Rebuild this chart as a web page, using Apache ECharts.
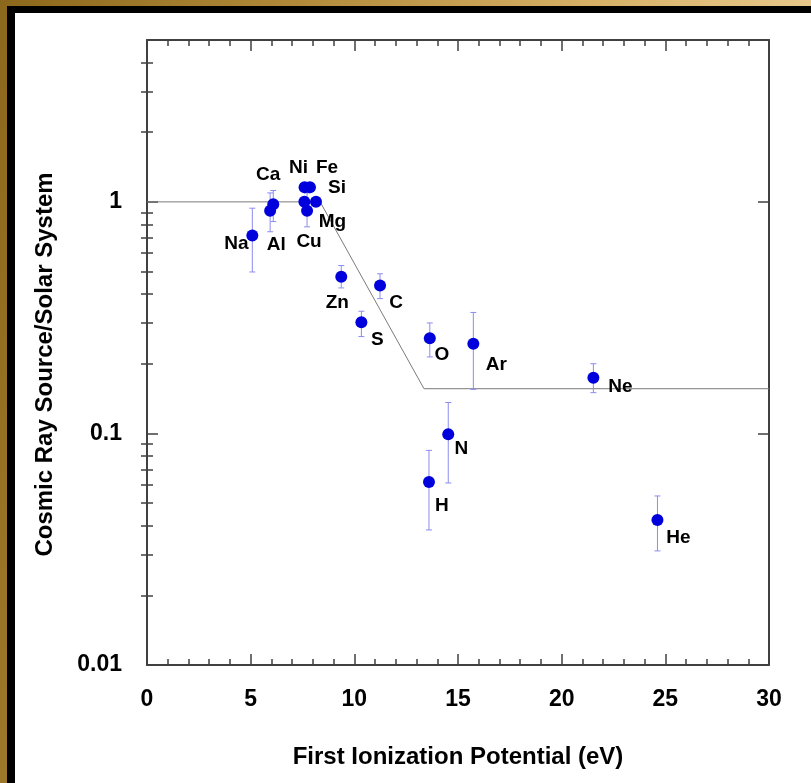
<!DOCTYPE html>
<html><head><meta charset="utf-8">
<script src="https://cdn.jsdelivr.net/npm/echarts@6/dist/echarts.min.js"></script>
<style>
html,body{margin:0;padding:0;width:811px;height:783px;overflow:hidden;}
body{position:relative;background:linear-gradient(100deg,#8c681c 0%,#b08838 30%,#d6b066 62%,#f2d8a2 100%);}
#black{position:absolute;left:7px;top:6px;right:0;bottom:0;background:#000;}
#white{position:absolute;left:15px;top:13px;right:0;bottom:0;background:#fff;}
#chart{position:absolute;left:0;top:0;width:811px;height:783px;}
</style></head>
<body><div id="black"></div><div id="white"></div><div id="chart"></div>
<script>
// ---- data ----
const elements = ['Na','Al','Ca','Ni','Fe','Mg','Si','Cu','Zn','C','S','O','Ar','Ne','N','H','He'];
const fip      = [5.08, 5.94, 6.09, 7.60, 7.86, 7.59, 8.15, 7.72, 9.37, 11.24, 10.34, 13.64, 15.74, 21.53, 14.53, 13.60, 24.62];
const ratio    = [0.716, 0.915, 0.977, 1.157, 1.157, 1.0, 1.0, 0.915, 0.475, 0.435, 0.302, 0.2575, 0.244, 0.174, 0.0993, 0.0617, 0.0423];
const errLow   = [0.498, 0.743, 0.822, null, null, null, null, 0.780, 0.425, 0.382, 0.262, 0.214, 0.155, 0.150, 0.0611, 0.0383, 0.0311];
const errHigh  = [0.939, 1.093, 1.119, null, null, null, null, 1.093, 0.531, 0.489, 0.337, 0.300, 0.333, 0.200, 0.136, 0.0845, 0.0537];
const modelX   = [0, 8.35, 13.36, 30];
const modelY   = [1, 1, 0.156, 0.156];
const yMajorTicks = [0.01, 0.1, 1];
const yMinorTicks = [0.02,0.03,0.04,0.05,0.06,0.07,0.08,0.09,0.2,0.3,0.4,0.5,0.6,0.7,0.8,0.9,2,3,4];
const xTitle = 'First Ionization Potential (eV)';
const yTitle = 'Cosmic Ray Source/Solar System';

// ---- layout (label offsets, px relative to point) ----
const labelOffset = {
  Na:[-16,8], Al:[6,34], Ca:[-5,-29], Ni:[-6,-19], Fe:[17,-19], Mg:[28,20], Si:[21,-14],
  Cu:[2,31], Zn:[-4,26], C:[16,17], S:[16,17], O:[12,16], Ar:[23,21], Ne:[27,9],
  N:[13,15], H:[13,24], He:[21,18]
};

const FONT = 'Liberation Sans, Arial, Helvetica, sans-serif';
const AX = '#404040';
const chart = echarts.init(document.getElementById('chart'), null, {renderer:'canvas'});

function fmt(v){ return String(+(+v).toPrecision(6)); }

const baseX = {
  type:'value', min:0, max:30, interval:5,
  axisLine:{show:true, onZero:false, lineStyle:{color:AX, width:2}},
  axisTick:{show:true, inside:true, length:11, lineStyle:{color:AX, width:1.5}},
  minorTick:{show:true, splitNumber:5, length:6, lineStyle:{color:AX, width:1.5}},
  splitLine:{show:false}, minorSplitLine:{show:false}
};
const baseY = {
  type:'log', logBase:10, min:0.01, max:5,
  splitLine:{show:false}, minorSplitLine:{show:false}, minorTick:{show:false}
};

const option = {
  animation:false,
  backgroundColor:'transparent',
  grid:{left:147, right:42, top:40, bottom:118, containLabel:false},
  xAxis:[
    Object.assign({}, baseX, {
      position:'bottom',
      axisLabel:{show:true, margin:23, color:'#000', fontSize:23, fontWeight:'bold', fontFamily:FONT},
      name:xTitle, nameLocation:'middle', nameGap:80,
      nameTextStyle:{color:'#000', fontSize:24, fontWeight:'bold', fontFamily:FONT}
    }),
    Object.assign({}, baseX, {position:'top', axisLabel:{show:false}})
  ],
  yAxis:[
    Object.assign({}, baseY, {
      position:'left',
      axisLine:{show:true, onZero:false, lineStyle:{color:AX, width:2}},
      axisTick:{show:true, inside:true, length:11, customValues:yMajorTicks, lineStyle:{color:AX, width:1.5}},
      axisLabel:{show:true, customValues:yMajorTicks, margin:25, formatter:fmt, color:'#000', fontSize:23, fontWeight:'bold', fontFamily:FONT},
      name:yTitle, nameLocation:'middle', nameGap:90,
      nameTextStyle:{color:'#000', fontSize:24, fontWeight:'bold', fontFamily:FONT, padding:[0,24,0,0]}
    }),
    Object.assign({}, baseY, {
      position:'left',
      axisLine:{show:false},
      axisTick:{show:true, inside:true, length:6, customValues:yMinorTicks, lineStyle:{color:AX, width:1.5}},
      axisLabel:{show:false}
    }),
    Object.assign({}, baseY, {
      position:'right',
      axisLine:{show:true, onZero:false, lineStyle:{color:AX, width:2}},
      axisTick:{show:true, inside:true, length:11, customValues:yMajorTicks, lineStyle:{color:AX, width:1.5}},
      axisLabel:{show:false}
    }),
    Object.assign({}, baseY, {
      position:'right',
      axisLine:{show:false},
      axisTick:{show:true, inside:true, length:6, customValues:yMinorTicks, lineStyle:{color:AX, width:1.5}},
      axisLabel:{show:false}
    })
  ],
  series:[
    {
      type:'line', xAxisIndex:0, yAxisIndex:0, z:1,
      data: modelX.map((x,i)=>[x, modelY[i]]),
      symbol:'none', lineStyle:{color:'#7a7a7a', width:1}, silent:true
    },
    {
      type:'custom', xAxisIndex:0, yAxisIndex:0, z:2,
      data: fip.map((x,i)=>[x, errLow[i] == null ? '-' : errLow[i], errHigh[i] == null ? '-' : errHigh[i]]),
      encode:{x:0, y:[1,2]},
      renderItem:function(params, api){
        const x = api.value(0), lo = api.value(1), hi = api.value(2);
        if (isNaN(lo) || isNaN(hi)) return null;
        const a = api.coord([x, lo]), b = api.coord([x, hi]);
        const hw = 3;
        const st = {stroke:'#8c8cf0', lineWidth:1};
        return {type:'group', children:[
          {type:'line', shape:{x1:a[0], y1:a[1], x2:b[0], y2:b[1]}, style:st},
          {type:'line', shape:{x1:a[0]-hw, y1:a[1], x2:a[0]+hw, y2:a[1]}, style:st},
          {type:'line', shape:{x1:b[0]-hw, y1:b[1], x2:b[0]+hw, y2:b[1]}, style:st}
        ]};
      }
    },
    {
      type:'scatter', xAxisIndex:0, yAxisIndex:0, z:3,
      symbol:'circle', symbolSize:12,
      itemStyle:{color:'#0000dc', opacity:1},
      data: elements.map((el,i)=>({
        value:[fip[i], ratio[i]], name:el,
        label:{show:true, position:'inside', formatter:el, offset:labelOffset[el], opacity:1,
               color:'#000', fontSize:19, fontWeight:'bold', fontFamily:FONT, align:'center', verticalAlign:'middle'}
      }))
    }
  ]
};
chart.setOption(option);
</script>
</body></html>
